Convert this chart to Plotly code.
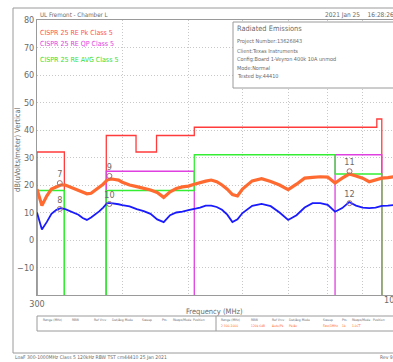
import math
import plotly.graph_objects as go

# frequency grid (MHz) and measured traces (dBuV/m)
freq = [300, 305, 310, 315, 320, 325, 330, 335, 340, 345, 350, 355, 360, 365, 370, 375,
        380, 385, 390, 395, 400, 410, 420, 430, 440, 450, 460, 470, 480, 490, 500, 510,
        520, 530, 540, 550, 560, 570, 580, 590, 600, 620, 640, 660, 680, 700, 720, 740,
        760, 780, 800, 820, 840, 860, 880, 900, 920, 940, 960, 980, 1000]
peak = [18.5, 12.5, 16.0, 18.5, 19.3, 20.0, 20.0, 19.3, 18.7, 18.0, 17.3, 16.8, 17.0, 18.0,
        19.0, 20.3, 21.8, 22.2, 22.0, 21.8, 21.0, 20.0, 19.4, 18.8, 18.2, 17.3, 15.5, 17.5,
        18.7, 19.3, 19.6, 20.3, 21.0, 21.4, 21.8, 21.2, 20.0, 18.5, 16.5, 16.0, 18.5, 21.5,
        22.3, 21.3, 20.0, 18.3, 20.3, 22.5, 22.8, 23.0, 22.9, 20.7, 22.5, 24.0, 23.3, 22.5,
        21.2, 21.8, 22.5, 22.7, 23.0]
avg = [10.0, 3.8, 6.5, 9.5, 10.9, 11.6, 11.2, 10.5, 10.0, 9.2, 8.0, 7.3, 8.2, 9.3, 10.4,
       11.8, 13.4, 13.4, 13.3, 13.0, 12.7, 12.2, 11.2, 10.5, 9.5, 7.5, 6.5, 9.0, 10.0, 10.3,
       10.9, 11.3, 11.8, 12.5, 12.5, 12.0, 11.0, 9.2, 6.5, 7.5, 9.8, 12.4, 13.1, 12.3, 10.0,
       7.3, 9.0, 11.8, 13.4, 13.4, 12.8, 10.3, 11.6, 13.8, 12.5, 11.8, 11.6, 11.8, 12.4,
       12.5, 12.7]

# limit bands: start, stop, level
pk_start = [300, 379, 419, 449, 510, 944]
pk_stop = [329, 419, 449, 510, 944, 960]
pk_level = [32, 38, 32, 38, 41, 44]
qp_start = [379, 820]
qp_stop = [510, 960]
qp_level = [25, 31]
av_start = [300, 379, 510, 820]
av_stop = [329, 510, 820, 960]
av_level = [18, 18, 31, 24]

# markers
mk_freq = [324, 324, 383, 383, 861, 861]
mk_val = [20.7, 11.3, 23.3, 13.1, 25.0, 13.4]
mk_label = ["7", "8", "9", "10", "11", "12"]

y_ticks = [-10, 0, 10, 20, 30, 40, 50, 60, 70, 80]
x_grid = [300, 400, 500, 600, 700, 800, 900]

W, H = 393, 362
L, R, T, B = 37, 0, 20, 67
FLOOR = -20
GRAY = "#6a6a6a"
FONT = "DejaVu Sans Condensed, DejaVu Sans"


def px(x):
    return (x - L) / (W - L - R)


def py(y):
    return (H - B - y) / (H - T - B)


def limit_path(starts, stops, levels):
    xs, ys = [], []
    for i in range(len(starts)):
        if i == 0 or starts[i] != stops[i - 1]:
            xs += [starts[i]]
            ys += [FLOOR]
        xs += [starts[i], stops[i]]
        ys += [levels[i], levels[i]]
        if i == len(starts) - 1 or starts[i + 1] != stops[i]:
            xs += [stops[i], None]
            ys += [FLOOR, None]
    return xs, ys


fig = go.Figure()
for s, e, lv, col in [(pk_start, pk_stop, pk_level, "#ff3b3b"),
                      (qp_start, qp_stop, qp_level, "#e040e0"),
                      (av_start, av_stop, av_level, "#33ee33")]:
    xs, ys = limit_path(s, e, lv)
    fig.add_trace(go.Scatter(x=xs, y=ys, mode="lines", line=dict(color=col, width=1.3),
                             hoverinfo="skip"))

fig.add_trace(go.Scatter(x=freq, y=peak, mode="lines",
                         line=dict(color="#ff6a30", width=3.2)))
fig.add_trace(go.Scatter(x=freq, y=avg, mode="lines",
                         line=dict(color="#1a1aff", width=1.8)))
fig.add_trace(go.Scatter(x=mk_freq, y=mk_val, mode="markers+text", text=mk_label,
                         textposition="top center",
                         textfont=dict(family=FONT, size=9, color=GRAY),
                         marker=dict(symbol="circle-open", size=5, color="#a07070")))

fig.update_xaxes(type="log", range=[math.log10(300), math.log10(997)],
                 tickvals=x_grid, ticktext=["300"] + [""] * (len(x_grid) - 1),
                 showgrid=True, gridcolor="#c8c8c8", griddash="1px,2px",
                 showline=True, linecolor="#9a9a9a", mirror=True,
                 tickfont=dict(family=FONT, size=9, color=GRAY), ticks="")
fig.update_yaxes(range=[FLOOR, 80], tickvals=y_ticks,
                 showgrid=True, gridcolor="#c8c8c8", griddash="1px,2px", zeroline=False,
                 showline=True, linecolor="#9a9a9a", mirror=True,
                 tickfont=dict(family=FONT, size=9, color=GRAY), ticks="")


def note(x, y, text, size=7, color=GRAY, xanchor="left", angle=0):
    fig.add_annotation(x=px(x), y=py(y), xref="paper", yref="paper", text=text,
                       showarrow=False, xanchor=xanchor, yanchor="middle", textangle=angle,
                       font=dict(family=FONT, size=size, color=color))


# outer frame, info box, bottom table
fig.add_shape(type="rect", xref="paper", yref="paper", x0=px(13), x1=px(400),
              y0=py(8), y1=py(353), line=dict(color="#9a9a9a", width=1))
fig.add_shape(type="rect", xref="paper", yref="paper", x0=px(233), x1=px(400),
              y0=py(22), y1=py(88), line=dict(color="#9a9a9a", width=1),
              fillcolor="white", layer="above")
fig.add_shape(type="rect", xref="paper", yref="paper", x0=px(37), x1=px(400),
              y0=py(316), y1=py(331), line=dict(color="#9a9a9a", width=1))
fig.add_shape(type="line", xref="paper", yref="paper", x0=px(216), x1=px(216),
              y0=py(316), y1=py(331), line=dict(color="#9a9a9a", width=1))

note(38, 14, "UL Fremont - Chamber L", size=6.2)
note(323, 15, "2021 Jan 25&nbsp;&nbsp;&nbsp;&nbsp;16:28:26", size=6.5)
note(38, 33, "CISPR 25 RE Pk Class 5", color="#ff5050")
note(38, 44, "CISPR 25 RE QP Class 5", color="#e040e0")
note(38, 60, "CISPR 25 RE AVG Class 5", color="#33dd33")
note(17, 150, "dB(uVolts/meter) Vertical", size=7.5, angle=-90, xanchor="center")
note(394, 300, "1000", size=9, xanchor="center")
note(214, 311, "Frequency (MHz)", size=7.5, xanchor="center")

note(235, 29, "Radiated Emissions", size=7.4)
info = ["Project Number:13626843", "Client:Texas Instruments",
        "Config:Board 1-Veyron 400k 10A unmod", "Mode:Normal", "Tested by:44410"]
for i, t in enumerate(info):
    note(235, 42 + i * 8.5, t, size=5.5)

heads = ["Range (MHz)", "RBW", "Ref Vrcv", "Det/Avg Mode", "Sweep", "Pts", "Rbaps/Mode", "Position"]
left_x = [41, 70, 92, 110, 140, 160, 171, 191]
right_x = [219, 249, 270, 287, 321, 340, 350, 371]
vals = ["2 300-1000", "120k 6dB", "Auto/Pk", "Pk/Av", "Fast/1MHz", "1k", "1.0CT"]
for hx, t in zip(left_x, heads):
    note(hx, 320, t, size=3.3)
for hx, t in zip(right_x, heads):
    note(hx, 320, t, size=3.3)
for hx, t in zip(right_x, vals):
    note(hx, 326, t, size=3.3, color="#ff6a2a")

note(13, 357, "LoaF 300-1000MHz Class 5 120kHz RBW TST cm44410 25 Jan 2021", size=5)
note(378, 357, "Rev 9.1", size=5)

fig.update_layout(width=W, height=H, margin=dict(l=L, r=R, t=T, b=B),
                  paper_bgcolor="white", plot_bgcolor="white", showlegend=False)
fig.write_html("out.html", config={"displayModeBar": False},
               post_script="document.body.style.margin='0px';")
